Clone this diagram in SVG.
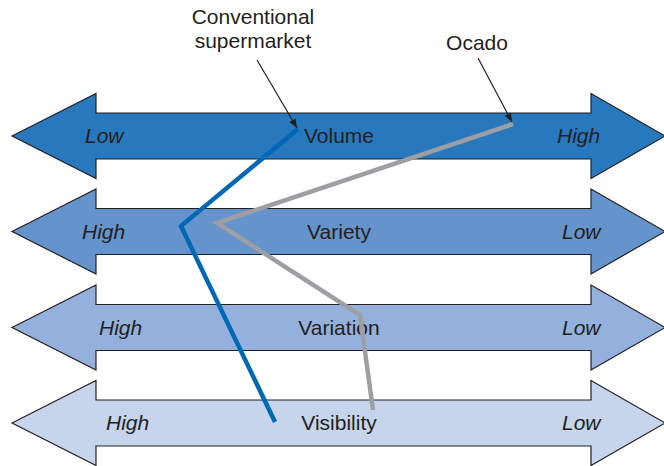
<svg xmlns="http://www.w3.org/2000/svg" width="664" height="466" viewBox="0 0 664 466">
<style>
.arr{stroke:#231f20;stroke-width:1.2;stroke-linejoin:miter}
.t{font-family:"Liberation Sans",Arial,sans-serif;font-size:21px;fill:#231f20}
.i{font-style:italic}
.m{text-anchor:middle}
.prof{fill:none;stroke-width:4.5;stroke-linejoin:miter}
.lead{fill:none;stroke:#231f20;stroke-width:1.2}
</style>
<defs>
<polygon id="dbl" points="12,0 96,-42.5 96,-23 591,-23 591,-42.5 665,0 591,42.5 591,23 96,23 96,42.5"/>
<marker id="ah" viewBox="0 0 10 10" refX="10" refY="5" markerWidth="9" markerHeight="9" markerUnits="userSpaceOnUse" orient="auto">
<path d="M0,1 L10,5 L0,9 Z" fill="#231f20"/>
</marker>
</defs>
<rect width="664" height="466" fill="#fff"/>
<g id="volume">
<use href="#dbl" class="arr" fill="#2878be" transform="translate(0,136)"/>
<text class="t i" x="85" y="143">Low</text>
<text class="t m" x="339" y="143">Volume</text>
<text class="t i" x="557" y="143">High</text>
</g>
<g id="variety">
<use href="#dbl" class="arr" fill="#6593cb" transform="translate(0,231.5)"/>
<text class="t i" x="82" y="239">High</text>
<text class="t m" x="339" y="239">Variety</text>
<text class="t i" x="562" y="239">Low</text>
</g>
<g id="variation">
<use href="#dbl" class="arr" fill="#93b1dc" transform="translate(0,327.5)"/>
<text class="t i" x="99" y="335">High</text>
<text class="t m" x="339" y="335">Variation</text>
<text class="t i" x="562" y="335">Low</text>
</g>
<g id="visibility">
<use href="#dbl" class="arr" fill="#c6d4ec" transform="translate(0,423)"/>
<text class="t i" x="106" y="430">High</text>
<text class="t m" x="339" y="430">Visibility</text>
<text class="t i" x="562" y="430">Low</text>
</g>
<g id="label-conventional">
<text class="t m" x="253" y="24">Conventional</text>
<text class="t m" x="253" y="48">supermarket</text>
</g>
<g id="label-ocado">
<text class="t m" x="477" y="50">Ocado</text>
</g>
<g id="connectors">
<polyline class="prof" stroke="#0068b4" points="298,129 181,226 275,422"/>
<polyline class="prof" stroke="#9d9fa2" points="513,124 217,223 360,315 373,410"/>
<line class="lead" x1="257" y1="60" x2="297" y2="128" marker-end="url(#ah)"/>
<line class="lead" x1="478" y1="58" x2="512" y2="122" marker-end="url(#ah)"/>
</g>
</svg>
